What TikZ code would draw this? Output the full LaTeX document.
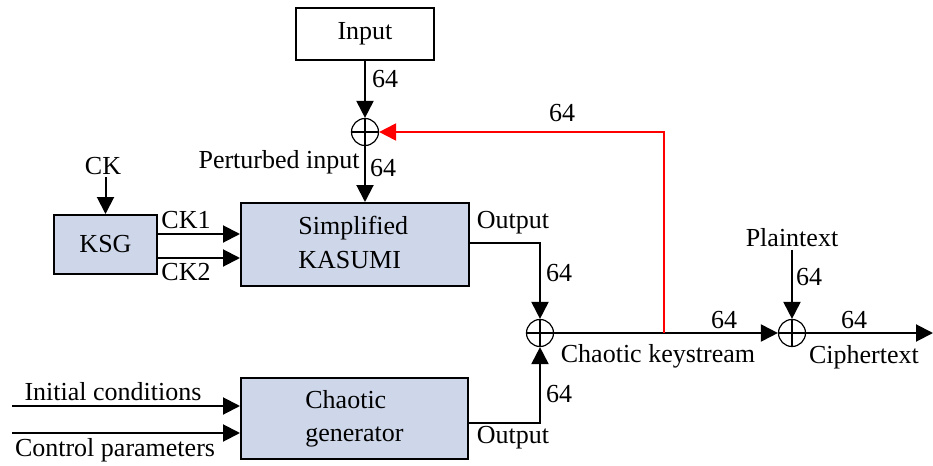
\documentclass[tikz,border=0pt]{standalone}
\usepackage{fontspec}
\setmainfont{Liberation Serif}
\usetikzlibrary{arrows.meta}
\definecolor{boxfill}{RGB}{206,215,234}
\tikzset{
  arr/.style={line width=1pt,-{Triangle[length=8.5pt,width=8.5pt]}},
  blk/.style={draw,line width=1pt,fill=boxfill,inner sep=0pt},
  wbox/.style={draw,line width=1pt,fill=white,inner sep=0pt},
  lbl/.style={inner sep=1pt},
  xor/.style={draw,circle,line width=0.6pt,minimum size=13.5pt,inner sep=0pt,
    path picture={\draw[line width=0.6pt] (path picture bounding box.north) -- (path picture bounding box.south)
      (path picture bounding box.west) -- (path picture bounding box.east);}}
}
\begin{document}
\begin{tikzpicture}[x=0.5pt,y=-0.5pt,font=\fontsize{13}{15}\selectfont]
\useasboundingbox (0,0) rectangle (933,466);
% boxes
\node[wbox,minimum width=69pt,minimum height=26pt] (in) at (365,34) {Input};
\node[blk,minimum width=51.5pt,minimum height=29.5pt] (ksg) at (105.5,244.5) {KSG};
\node[blk,minimum width=114pt,minimum height=41.5pt] (kas) at (355,244.5) {};
\node[blk,minimum width=113.5pt,minimum height=40.5pt] (cg) at (354.5,418.5) {};
\node[lbl,anchor=west] (kast) at (296,245) {\begin{tabular}{@{}l@{}}Simplified\\[2pt]KASUMI\end{tabular}};
\node[lbl,anchor=west] (cgt) at (303,419) {\begin{tabular}{@{}l@{}}Chaotic\\[1.5pt]generator\end{tabular}};
% xors
\node[xor] (x1) at (365,132) {};
\node[xor] (x2) at (540,333) {};
\node[xor] (x3) at (792,333) {};
% text labels
\node[lbl] (ck) at (103,166) {CK};
\node[lbl] (ck1) at (186,220) {CK1};
\node[lbl] (ck2) at (186,272) {CK2};
\node[lbl,anchor=east] (pi) at (362,162) {Perturbed input};
\node[lbl] (l64a) at (385,79) {64};
\node[lbl] (l64b) at (383,168) {64};
\node[lbl] (l64r) at (562,113) {64};
\node[lbl] (out1) at (513,223) {Output};
\node[lbl] (l64c) at (559,273) {64};
\node[lbl] (l64d) at (559,394) {64};
\node[lbl] (out2) at (513,438) {Output};
\node[lbl] (cks) at (658,356) {Chaotic keystream};
\node[lbl] (l64e) at (724,320) {64};
\node[lbl] (ptx) at (792,238) {Plaintext};
\node[lbl] (l64f) at (809,277) {64};
\node[lbl] (l64g) at (854,320) {64};
\node[lbl] (ctx) at (864,357) {Ciphertext};
\node[lbl] (ic) at (113,392) {Initial conditions};
\node[lbl] (cp) at (115,450) {Control parameters};
\coordinate (icst) at (12,406);
\coordinate (cpst) at (12,433);
\coordinate (rj) at (664,333);
\coordinate (endc) at (933,333);
% connectors
\draw[arr] (in.south) -- (x1.north);
\draw[arr] (x1.south) -- (x1.south |- kas.north);
\draw[arr] (ck.south -| ksg.north) -- (ksg.north);
\draw[arr] ([yshift=5.25pt]ksg.east) -- ([yshift=5.25pt]ksg.east -| kas.west);
\draw[arr] ([yshift=-6.75pt]ksg.east) -- ([yshift=-6.75pt]ksg.east -| kas.west);
\draw[arr] ([yshift=0.75pt]kas.east) -| (x2.north);
\draw[arr] ([yshift=-2.25pt]cg.east) -| (x2.south);
\draw[arr] (icst) -- (icst -| cg.west);
\draw[arr] (cpst) -- (cpst -| cg.west);
\draw[arr] (x2.east) -- (x3.west);
\draw[arr,red] (rj) |- (x1.east);
\draw[arr] (ptx.south -| x3.north) -- (x3.north);
\draw[arr] (x3.east) -- (endc);
\end{tikzpicture}
\end{document}
